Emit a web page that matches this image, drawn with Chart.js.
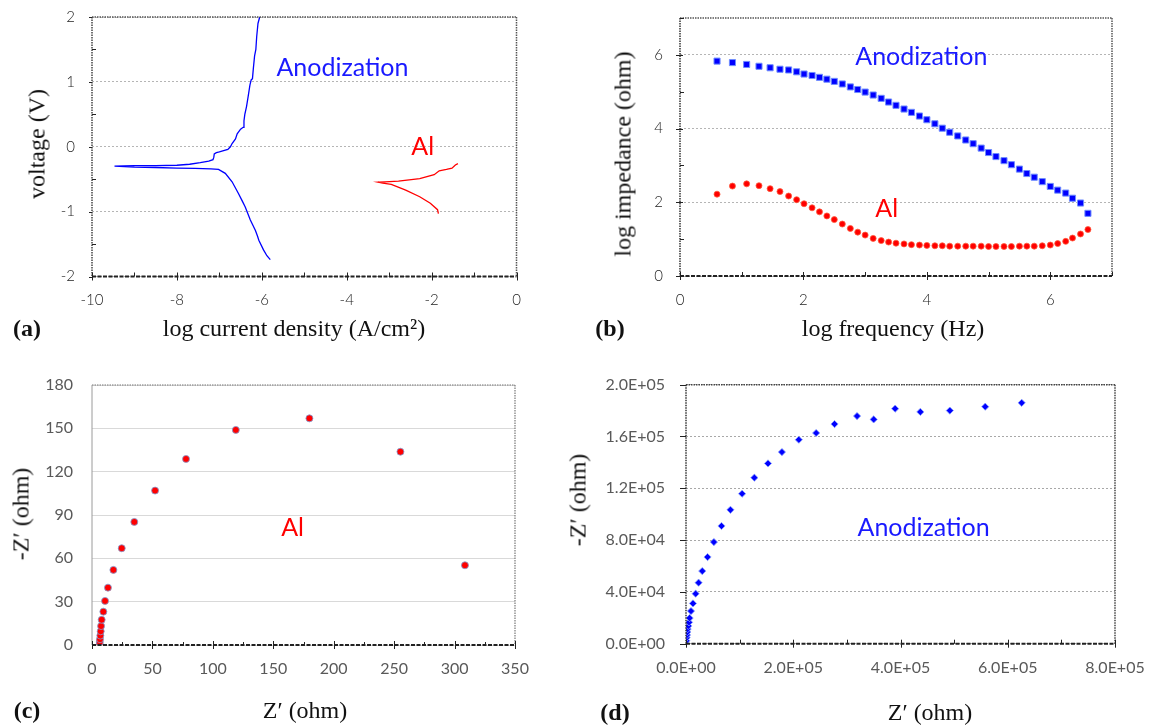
<!DOCTYPE html>
<html>
<head>
<meta charset="utf-8">
<script src="https://cdn.jsdelivr.net/npm/chart.js@4.4.1/dist/chart.umd.min.js"></script>
<style>
  body { margin: 0; background: #fff; }
  #page { position: relative; width: 1149px; height: 725px; overflow: hidden; }
  .panel { position: absolute; }
  .txt {
    position: absolute; white-space: nowrap; color: #111;
    font-family: "Liberation Serif", "Times New Roman", serif; font-size: 24px;
    transform: translate(-50%, -50%);
  }
  .rot { transform: translate(-50%, -50%) rotate(-90deg); }
  .tag { font-weight: bold; }
</style>
</head>
<body>
<div id="page">
  <div class="panel" style="left:0;top:0;width:575px;height:350px"><canvas id="chartA"></canvas></div>
  <div class="panel" style="left:575px;top:0;width:574px;height:350px"><canvas id="chartB"></canvas></div>
  <div class="panel" style="left:0;top:360px;width:575px;height:365px"><canvas id="chartC"></canvas></div>
  <div class="panel" style="left:575px;top:360px;width:574px;height:365px"><canvas id="chartD"></canvas></div>

  <div class="txt rot" style="left:37px;top:144px">voltage (V)</div>
  <div class="txt" style="left:294px;top:328px">log current density (A/cm²)</div>
  <div class="txt tag" style="left:27px;top:328px">(a)</div>

  <div class="txt rot" style="left:623px;top:154px">log impedance (ohm)</div>
  <div class="txt" style="left:893px;top:328px">log frequency (Hz)</div>
  <div class="txt tag" style="left:610px;top:328px">(b)</div>

  <div class="txt rot" style="left:21px;top:514px">-Z′ (ohm)</div>
  <div class="txt" style="left:305px;top:710px">Z′ (ohm)</div>
  <div class="txt tag" style="left:27px;top:710px">(c)</div>

  <div class="txt rot" style="left:578px;top:500px">-Z′ (ohm)</div>
  <div class="txt" style="left:930px;top:712px">Z′ (ohm)</div>
  <div class="txt tag" style="left:615px;top:712px">(d)</div>
</div>
<script>
// (a) potentiodynamic polarization, traced end -> tip -> end
const anodLogI = [-5.80, -5.88, -5.96, -6.07, -6.10, -6.15, -6.27, -6.39, -6.45, -6.55, -6.70, -6.86, -7.02, -7.20, -7.57, -8.00, -8.50, -9.00, -9.47,
  -9.00, -8.50, -8.00, -7.70, -7.45, -7.25, -7.15, -7.13, -7.12, -7.07, -7.00, -6.90, -6.80, -6.74, -6.70, -6.62, -6.58, -6.50, -6.44,
  -6.42, -6.40, -6.36, -6.32, -6.28, -6.25, -6.22, -6.20, -6.17, -6.14, -6.12, -6.09, -6.05];
const anodV = [-1.74, -1.68, -1.59, -1.44, -1.38, -1.29, -1.13, -0.93, -0.85, -0.72, -0.54, -0.41, -0.35, -0.34, -0.334, -0.33, -0.32, -0.315, -0.30,
  -0.292, -0.29, -0.285, -0.27, -0.245, -0.22, -0.20, -0.16, -0.11, -0.09, -0.08, -0.06, -0.04, 0.00, 0.05, 0.12, 0.20, 0.27, 0.30,
  0.40, 0.50, 0.62, 0.78, 0.95, 1.03, 1.05, 1.20, 1.40, 1.50, 1.70, 1.90, 2.00];
const alLogI = [-1.84, -1.86, -2.03, -2.28, -2.61, -2.95, -3.15, -3.26, -3.10, -2.78, -2.28, -1.94, -1.82, -1.65, -1.52, -1.44, -1.38];
const alV = [-1.03, -0.97, -0.87, -0.77, -0.67, -0.58, -0.56, -0.545, -0.54, -0.53, -0.49, -0.43, -0.37, -0.35, -0.33, -0.28, -0.26];

// (b) Bode modulus
const logFreq = [0.60, 0.85, 1.08, 1.28, 1.46, 1.62, 1.76, 1.89, 2.01, 2.14, 2.26, 2.38, 2.50, 2.63, 2.76, 2.88, 3.00, 3.13, 3.26, 3.38, 3.50, 3.63, 3.75,
  3.88, 4.00, 4.13, 4.25, 4.37, 4.50, 4.63, 4.75, 4.88, 5.00, 5.12, 5.25, 5.37, 5.50, 5.62, 5.74, 5.87, 6.00, 6.12, 6.25, 6.36, 6.49, 6.61];
const anodLogZ = [5.83, 5.79, 5.74, 5.69, 5.65, 5.61, 5.59, 5.54, 5.48, 5.44, 5.39, 5.34, 5.28, 5.21, 5.13, 5.06, 4.99, 4.91, 4.82, 4.72, 4.63, 4.53, 4.44,
  4.34, 4.24, 4.13, 4.01, 3.90, 3.80, 3.69, 3.59, 3.47, 3.35, 3.24, 3.13, 3.02, 2.90, 2.78, 2.68, 2.56, 2.43, 2.33, 2.25, 2.11, 1.98, 1.70];
const alLogZ = [2.22, 2.44, 2.50, 2.45, 2.37, 2.29, 2.17, 2.07, 1.96, 1.85, 1.74, 1.63, 1.53, 1.41, 1.29, 1.19, 1.11, 1.02, 0.96, 0.92, 0.89, 0.87, 0.85,
  0.84, 0.83, 0.82, 0.82, 0.81, 0.81, 0.81, 0.81, 0.81, 0.80, 0.80, 0.80, 0.80, 0.81, 0.81, 0.81, 0.82, 0.84, 0.88, 0.94, 1.03, 1.14, 1.26];

// (c) Nyquist, bare Al
const alZre = [6.2, 6.4, 6.4, 6.6, 6.9, 7.2, 7.5, 8.0, 9.4, 10.8, 13.2, 17.7, 24.6, 35.0, 52.2, 77.8, 119.0, 179.9, 255.2, 308.6];
const alZim = [0.0, 0.5, 2.1, 4.0, 6.5, 9.5, 13.1, 17.5, 23.1, 30.5, 39.7, 52.0, 67.0, 85.2, 106.9, 128.8, 148.9, 156.9, 133.8, 55.2];

// (d) Nyquist, anodized
const anodZre = [0, 620, 1200, 1900, 2500, 3100, 4300, 5600, 6800, 9300, 13000, 18000, 23500, 30300, 40200, 52000, 66200, 82900, 104600,
  127500, 152900, 178900, 210400, 242700, 277000, 319000, 350000, 390000, 437000, 492000, 558000, 626000];
const anodZim = [0, 2300, 4600, 6700, 9000, 11300, 13700, 16500, 19800, 25200, 31100, 38600, 47100, 56100, 66900, 78500, 90900, 103400, 115800,
  128200, 139200, 148000, 157500, 162700, 169600, 175800, 173200, 181500, 179000, 180000, 183000, 186000];

const pairs = (xs, ys) => xs.map((x, i) => ({ x, y: ys[i] }));
const sci = v => {
  if (v === 0) return '0.0E+00';
  const e = Math.floor(Math.log10(v) + 1e-9);
  return (v / Math.pow(10, e)).toFixed(1) + 'E+' + String(e).padStart(2, '0');
};

// plot frame, one stroke style per side
const frame = {
  id: 'frame',
  afterDatasetsDraw(chart, args, opts) {
    const { ctx, chartArea: { left, right, top, bottom } } = chart;
    const side = (s, x1, y1, x2, y2) => {
      if (!s) return;
      ctx.save();
      ctx.strokeStyle = s.color;
      ctx.lineWidth = s.width;
      ctx.setLineDash(s.dash || []);
      ctx.beginPath();
      ctx.moveTo(x1, y1);
      ctx.lineTo(x2, y2);
      ctx.stroke();
      ctx.restore();
    };
    side(opts.top, left, top, right, top);
    side(opts.right, right, top, right, bottom);
    side(opts.left, left, top, left, bottom);
    side(opts.bottom, left, bottom, right, bottom);
  }
};

// tick marks drawn on the axis line; labelled ticks are the long ones
const axisTicks = {
  id: 'axisTicks',
  afterDatasetsDraw(chart, args, opts) {
    const { ctx, chartArea: a } = chart;
    ctx.save();
    ctx.strokeStyle = opts.color || '#222';
    ctx.lineWidth = 1;
    ['x', 'y'].forEach(id => {
      const o = opts[id];
      if (!o) return;
      const s = chart.scales[id];
      s.ticks.forEach(t => {
        const major = t.label !== '';
        const inner = major ? o.major : o.minor;
        const outer = major ? o.out : 0;
        const p = Math.round(s.getPixelForValue(t.value)) + 0.5;
        ctx.beginPath();
        if (id === 'x') {
          ctx.moveTo(p, a.bottom + outer);
          ctx.lineTo(p, a.bottom - inner);
        } else {
          ctx.moveTo(a.left - outer, p);
          ctx.lineTo(a.left + inner, p);
        }
        ctx.stroke();
      });
    });
    ctx.restore();
  }
};

// in-plot series names, placed in data units
const notes = {
  id: 'notes',
  afterDatasetsDraw(chart, args, opts) {
    const { ctx, scales: { x, y } } = chart;
    (opts.items || []).forEach(n => {
      ctx.save();
      ctx.font = '25px Lato, "Open Sans", sans-serif';
      ctx.fillStyle = n.color;
      ctx.textAlign = 'center';
      ctx.textBaseline = 'middle';
      ctx.fillText(n.text, x.getPixelForValue(n.x), y.getPixelForValue(n.y));
      ctx.restore();
    });
  }
};

Chart.register(frame, axisTicks, notes);
Chart.defaults.font.family = 'Lato, "Open Sans", sans-serif';
Chart.defaults.animation = false;

const BLUE = '#0000ff';
const RED = '#ff0000';
const dotted = (color, width) => ({ color, width, dash: [1.5, 1] });
const axisLine = { color: '#222', width: 2, dash: [4, 1.5] };

// fixed axis boxes so the plot areas sit where they should;
// label overhang is dropped so it does not eat into the layout padding
function box(yWidth, xHeight) {
  return {
    x: s => { s.height = xHeight; s.paddingLeft = 0; s.paddingRight = 0; },
    y: s => { s.width = yWidth; s.paddingTop = 0; s.paddingBottom = 0; }
  };
}

function makeChart(id, { datasets, fit, padding, x, y, plugins }) {
  return new Chart(document.getElementById(id), {
    type: 'scatter',
    data: { datasets },
    options: {
      responsive: true,
      maintainAspectRatio: false,
      layout: { padding: Object.assign({ left: 0, bottom: 0 }, padding) },
      plugins: Object.assign({ legend: { display: false }, tooltip: { enabled: false } }, plugins),
      scales: {
        x: Object.assign({ type: 'linear', afterFit: fit.x }, x),
        y: Object.assign({ type: 'linear', afterFit: fit.y }, y)
      }
    }
  });
}

const labelledGrid = color => ({
  drawTicks: false,
  color: c => (c.tick && c.tick.label !== '' ? color : 'rgba(0,0,0,0)')
});

// (a)
makeChart('chartA', {
  fit: box(92, 73.5),
  padding: { top: 17, right: 58.5 },
  datasets: [
    { data: pairs(anodLogI, anodV), showLine: true, borderColor: BLUE, borderWidth: 1.3, pointRadius: 0 },
    { data: pairs(alLogI, alV), showLine: true, borderColor: RED, borderWidth: 1.3, pointRadius: 0 }
  ],
  x: {
    min: -10, max: 0,
    grid: { drawTicks: false, drawOnChartArea: false },
    border: { display: false },
    ticks: { stepSize: 1, autoSkip: false, maxRotation: 0, padding: 14.5, color: '#222',
      font: { size: 15, weight: 300 }, callback: v => (v % 2 === 0 ? v : '') }
  },
  y: {
    min: -2, max: 2,
    grid: labelledGrid('#b5b5b5'),
    border: { display: false, dash: [2, 2] },
    ticks: { stepSize: 0.5, autoSkip: false, padding: 17, color: '#222',
      font: { size: 15, weight: 300 }, callback: v => (Number.isInteger(v) ? v : '') }
  },
  plugins: {
    frame: { top: dotted('#555', 1.5), right: dotted('#555', 1.5), left: dotted('#444', 1.5), bottom: axisLine },
    axisTicks: { x: { major: 4, minor: 4, out: 4 }, y: { major: 0, minor: 4, out: 3 } },
    notes: { items: [
      { text: 'Anodization', x: -4.10, y: 1.21, color: '#1a1aff' },
      { text: 'Al', x: -2.21, y: 0.0, color: RED }
    ] }
  }
});

// (b)
makeChart('chartB', {
  fit: box(105, 74),
  padding: { top: 18, right: 37 },
  datasets: [
    { data: pairs(logFreq, anodLogZ), pointStyle: 'rect', pointRadius: 4.3, backgroundColor: BLUE,
      borderColor: '#6f8dff', borderWidth: 1 },
    { data: pairs(logFreq, alLogZ), pointStyle: 'circle', pointRadius: 3, backgroundColor: RED,
      borderColor: '#ff5a3c', borderWidth: 0.8 }
  ],
  x: {
    min: 0, max: 7,
    grid: { drawTicks: false, drawOnChartArea: false },
    border: { display: false },
    ticks: { stepSize: 1, autoSkip: false, maxRotation: 0, padding: 15, color: '#222',
      font: { size: 15, weight: 300 }, callback: v => (v % 2 === 0 ? v : '') }
  },
  y: {
    min: 0, max: 7,
    grid: labelledGrid('#b5b5b5'),
    border: { display: false, dash: [2, 2] },
    ticks: { stepSize: 1, autoSkip: false, padding: 17, color: '#222',
      font: { size: 15, weight: 300 }, callback: v => (v % 2 === 0 ? v : '') }
  },
  plugins: {
    frame: { top: dotted('#555', 1.5), right: dotted('#555', 1.5), left: dotted('#333', 1.5), bottom: axisLine },
    axisTicks: { x: { major: 4, minor: 4, out: 4 }, y: { major: 3, minor: 4, out: 4 } },
    notes: { items: [
      { text: 'Anodization', x: 3.91, y: 5.93, color: '#1a1aff' },
      { text: 'Al', x: 3.35, y: 1.82, color: RED }
    ] }
  }
});

// (c)
makeChart('chartC', {
  fit: box(92, 80),
  padding: { top: 25, right: 60 },
  datasets: [
    { data: pairs(alZre, alZim), pointStyle: 'circle', pointRadius: 3.5, backgroundColor: RED,
      borderColor: '#7f9fd6', borderWidth: 0.8 }
  ],
  x: {
    min: 0, max: 350,
    grid: { drawTicks: false, drawOnChartArea: false },
    border: { display: false },
    ticks: { stepSize: 25, autoSkip: false, maxRotation: 0, padding: 14.4, color: '#595959',
      font: { size: 16 }, callback: v => (v % 50 === 0 ? v : '') }
  },
  y: {
    min: 0, max: 180,
    grid: { drawTicks: false, color: '#d9d9d9' },
    border: { display: false },
    ticks: { stepSize: 30, autoSkip: false, padding: 19, color: '#595959', font: { size: 16 } }
  },
  plugins: {
    frame: { top: dotted('#777', 1.2), right: dotted('#777', 1.2), left: { color: '#9a9a9a', width: 1 }, bottom: axisLine },
    axisTicks: { x: { major: 4, minor: 3, out: 4 } },
    notes: { items: [{ text: 'Al', x: 166, y: 81, color: RED }] }
  }
});

// (d)
makeChart('chartD', {
  fit: box(111, 81.3),
  padding: { top: 24.7, right: 34 },
  datasets: [
    { data: pairs(anodZre, anodZim), pointStyle: 'rectRot', pointRadius: 3.6, backgroundColor: BLUE,
      borderColor: '#8aa2ff', borderWidth: 0.8 }
  ],
  x: {
    min: 0, max: 800000,
    grid: { drawTicks: false, drawOnChartArea: false },
    border: { display: false },
    ticks: { stepSize: 100000, autoSkip: false, maxRotation: 0, padding: 14.7, color: '#595959',
      font: { size: 16 }, callback: v => (v % 200000 === 0 ? sci(v) : '') }
  },
  y: {
    min: 0, max: 200000,
    grid: labelledGrid('#a8a8a8'),
    border: { display: false, dash: [2, 2] },
    ticks: { stepSize: 40000, autoSkip: false, padding: 21, color: '#595959', font: { size: 16 }, callback: v => sci(v) }
  },
  plugins: {
    frame: { top: dotted('#444', 1.5), right: dotted('#444', 1.5), left: dotted('#333', 1.5), bottom: axisLine },
    axisTicks: { x: { major: 4, minor: 4, out: 4 }, y: { major: 0, minor: 0, out: 6 } },
    notes: { items: [{ text: 'Anodization', x: 443000, y: 89300, color: '#1a1aff' }] }
  }
});
</script>
</body>
</html>
